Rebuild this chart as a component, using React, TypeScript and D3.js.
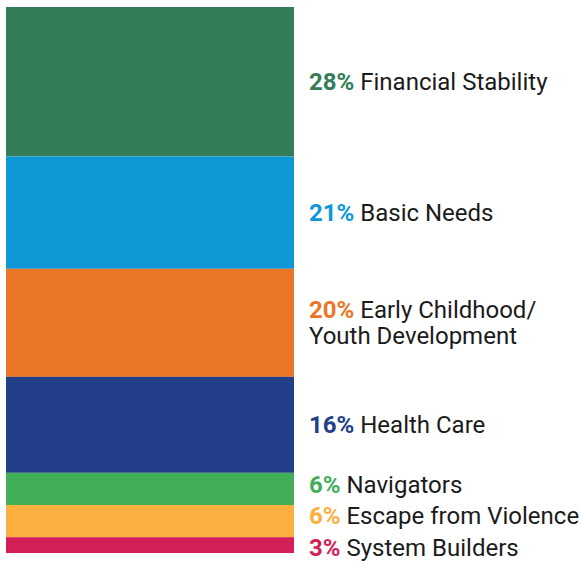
import React from "react";
import * as d3 from "d3";

const categories = [
  "Financial Stability",
  "Basic Needs",
  "Early Childhood/\nYouth Development",
  "Health Care",
  "Navigators",
  "Escape from Violence",
  "System Builders",
];
const percentLabels = ["28%", "21%", "20%", "16%", "6%", "6%", "3%"];
// segment shares
const shares = [27.4, 20.6, 19.8, 17.6, 5.9, 5.9, 2.9];
const colors = ["#347D56", "#0E98D5", "#EA7627", "#233F89", "#43AE58", "#FBB040", "#D41F58"];

const W = 580;
const H = 562;
const barX0 = 6;
const barX1 = 294;
const top = 7;
const bottom = 553;
const labelX = 309;
const fontSize = 24;
const lineH = 26;
const minGap = 31.5;

export default function App() {
  const total = d3.sum(shares);
  const y = d3.scaleLinear().domain([0, total]).range([top, bottom]);
  const stacked = d3.cumsum(shares);
  const segs = shares.map((v, i) => {
    const s = i === 0 ? 0 : stacked[i - 1];
    return { y0: y(s), y1: y(s + v), i };
  });

  // label layout with collision resolution (group centering)
  const lines = categories.map((c) => c.split("\n"));
  const heights = lines.map((l) => (l.length - 1) * lineH + minGap);
  type Grp = { idx: number[]; center: number };
  let groups: Grp[] = segs.map((s) => ({ idx: [s.i], center: (s.y0 + s.y1) / 2 }));
  const grpH = (g: Grp) => d3.sum(g.idx, (k) => heights[k]);
  let changed = true;
  while (changed) {
    changed = false;
    for (let k = 0; k < groups.length - 1; k++) {
      const a = groups[k];
      const b = groups[k + 1];
      const aBottom = a.center + grpH(a) / 2;
      const bTop = b.center - grpH(b) / 2;
      if (aBottom > bTop + 0.01) {
        const idx = [...a.idx, ...b.idx];
        const targets = idx.map((q) => (segs[q].y0 + segs[q].y1) / 2);
        const merged: Grp = { idx, center: (d3.mean(targets) as number) - 2.5 };
        groups.splice(k, 2, merged);
        changed = true;
        break;
      }
    }
  }
  const centers: number[] = new Array(categories.length);
  groups.forEach((g) => {
    let cur = g.center - grpH(g) / 2;
    g.idx.forEach((q) => {
      centers[q] = cur + heights[q] / 2;
      cur += heights[q];
    });
  });

  const capHalf = 16.4 / 2;

  return (
    <svg
      width={W}
      height={H}
      style={{ position: "absolute", left: 0, top: 0 }}
      fontFamily="Roboto, sans-serif"
    >
      {segs.map((s) => (
        <rect
          key={s.i}
          x={barX0}
          y={s.y0}
          width={barX1 - barX0}
          height={s.y1 - s.y0}
          fill={colors[s.i]}
        />
      ))}
      {lines.map((ls, i) => {
        const firstBase = centers[i] - ((ls.length - 1) * lineH) / 2 + capHalf;
        return (
          <text key={i} x={labelX} y={firstBase} fontSize={fontSize} fill="#1b1b1b">
            {ls.map((t, j) => (
              <tspan key={j} x={labelX} y={firstBase + j * lineH}>
                {j === 0 ? (
                  <>
                    <tspan fontWeight={700} fill={colors[i]}>
                      {percentLabels[i]}
                    </tspan>
                    {" " + t}
                  </>
                ) : (
                  t
                )}
              </tspan>
            ))}
          </text>
        );
      })}
    </svg>
  );
}
